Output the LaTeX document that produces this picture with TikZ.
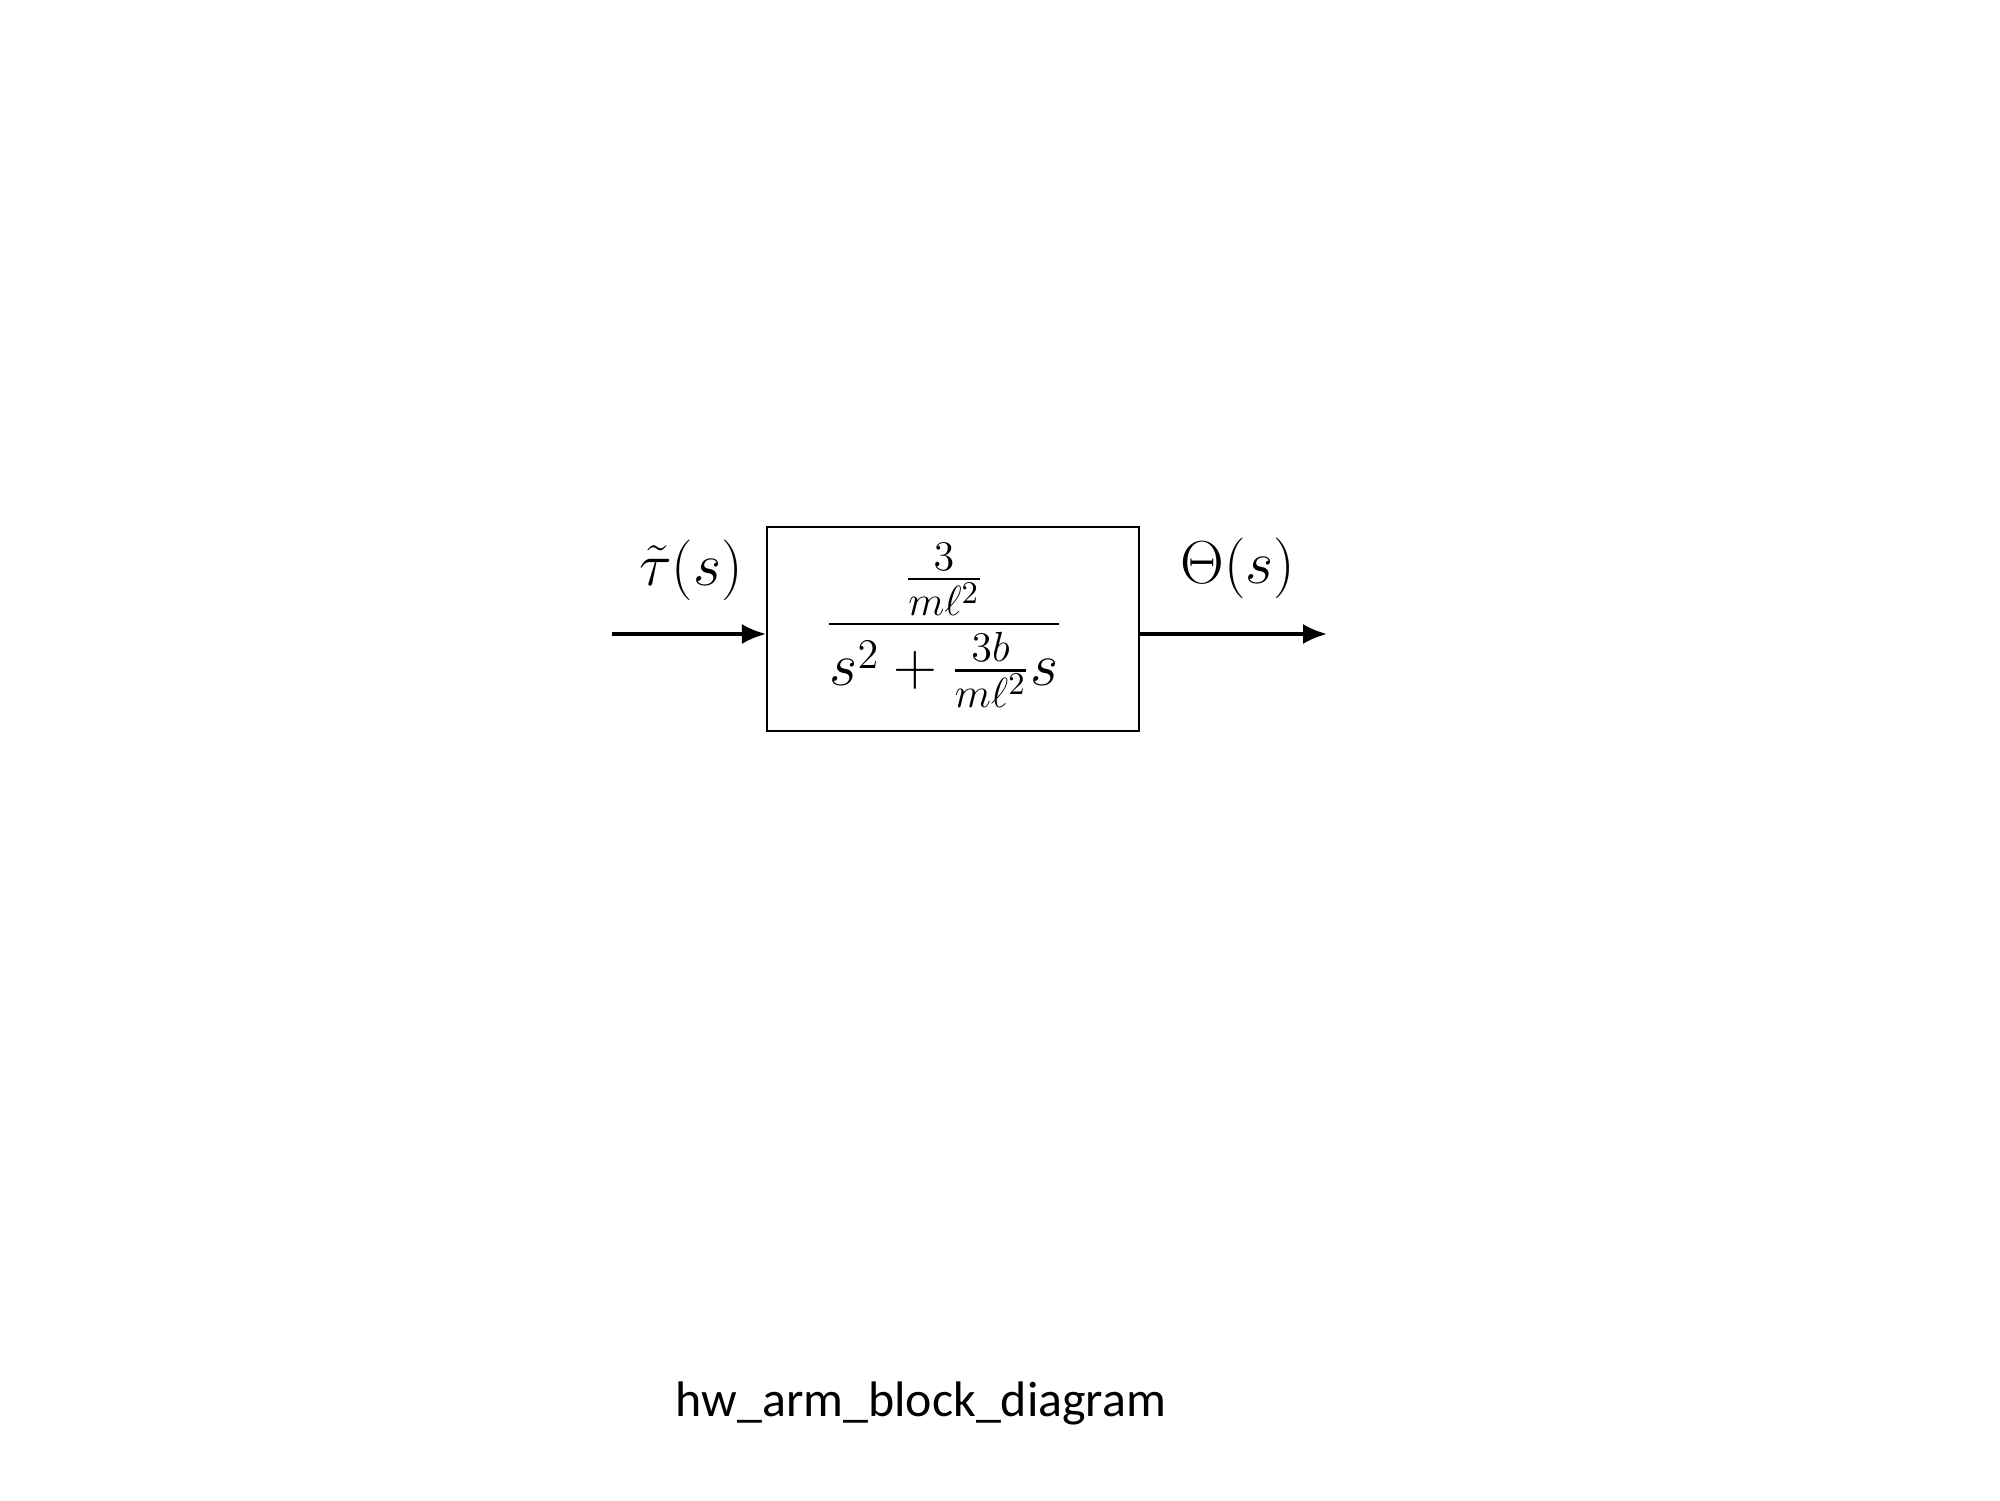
\documentclass[tikz,border=0pt]{standalone}
\usepackage{amsmath, amssymb}
\usepackage{fontspec}
\newfontfamily\captionfont{Carlito}
\usetikzlibrary{arrows.meta, calc, positioning}

\begin{document}
\begin{tikzpicture}[
    blockbox/.style={draw, line width=0.6pt, minimum width=3.72cm, minimum height=2.04cm, inner sep=0pt},
    sigline/.style={line width=0.9pt, -{Latex[length=2.4mm, width=2mm]}},
    siglabel/.style={font=\fontsize{16}{19}\selectfont}
]
    % 页面大小
    \useasboundingbox (0,0) rectangle (20,15);

    % 传递函数方框
    \node[blockbox] (plant) at (9.53, 8.71) {};
    \node[font=\fontsize{17.8}{21}\selectfont, inner sep=0pt] (tf) at (9.44, 8.75)
        {$\displaystyle\frac{\frac{3}{m\ell^2}}{s^2+\frac{3b}{m\ell^2}s}$};

    % 输入与输出
    \coordinate (u) at (6.12, 8.66);
    \coordinate (y) at (13.27, 8.66);
    \draw[sigline] (u) -- (u -| plant.west);
    \draw[sigline] (y -| plant.east) -- (y);
    \node[siglabel] (ulabel) at (6.91, 9.30) {$\tilde{\tau}(s)$};
    \node[siglabel] (ylabel) at (12.38, 9.32) {$\Theta(s)$};

    % 标题
    \node[font=\captionfont\fontsize{14.2}{17}\selectfont] (title) at (9.21, 0.97) {hw\_arm\_block\_diagram};
\end{tikzpicture}
\end{document}
